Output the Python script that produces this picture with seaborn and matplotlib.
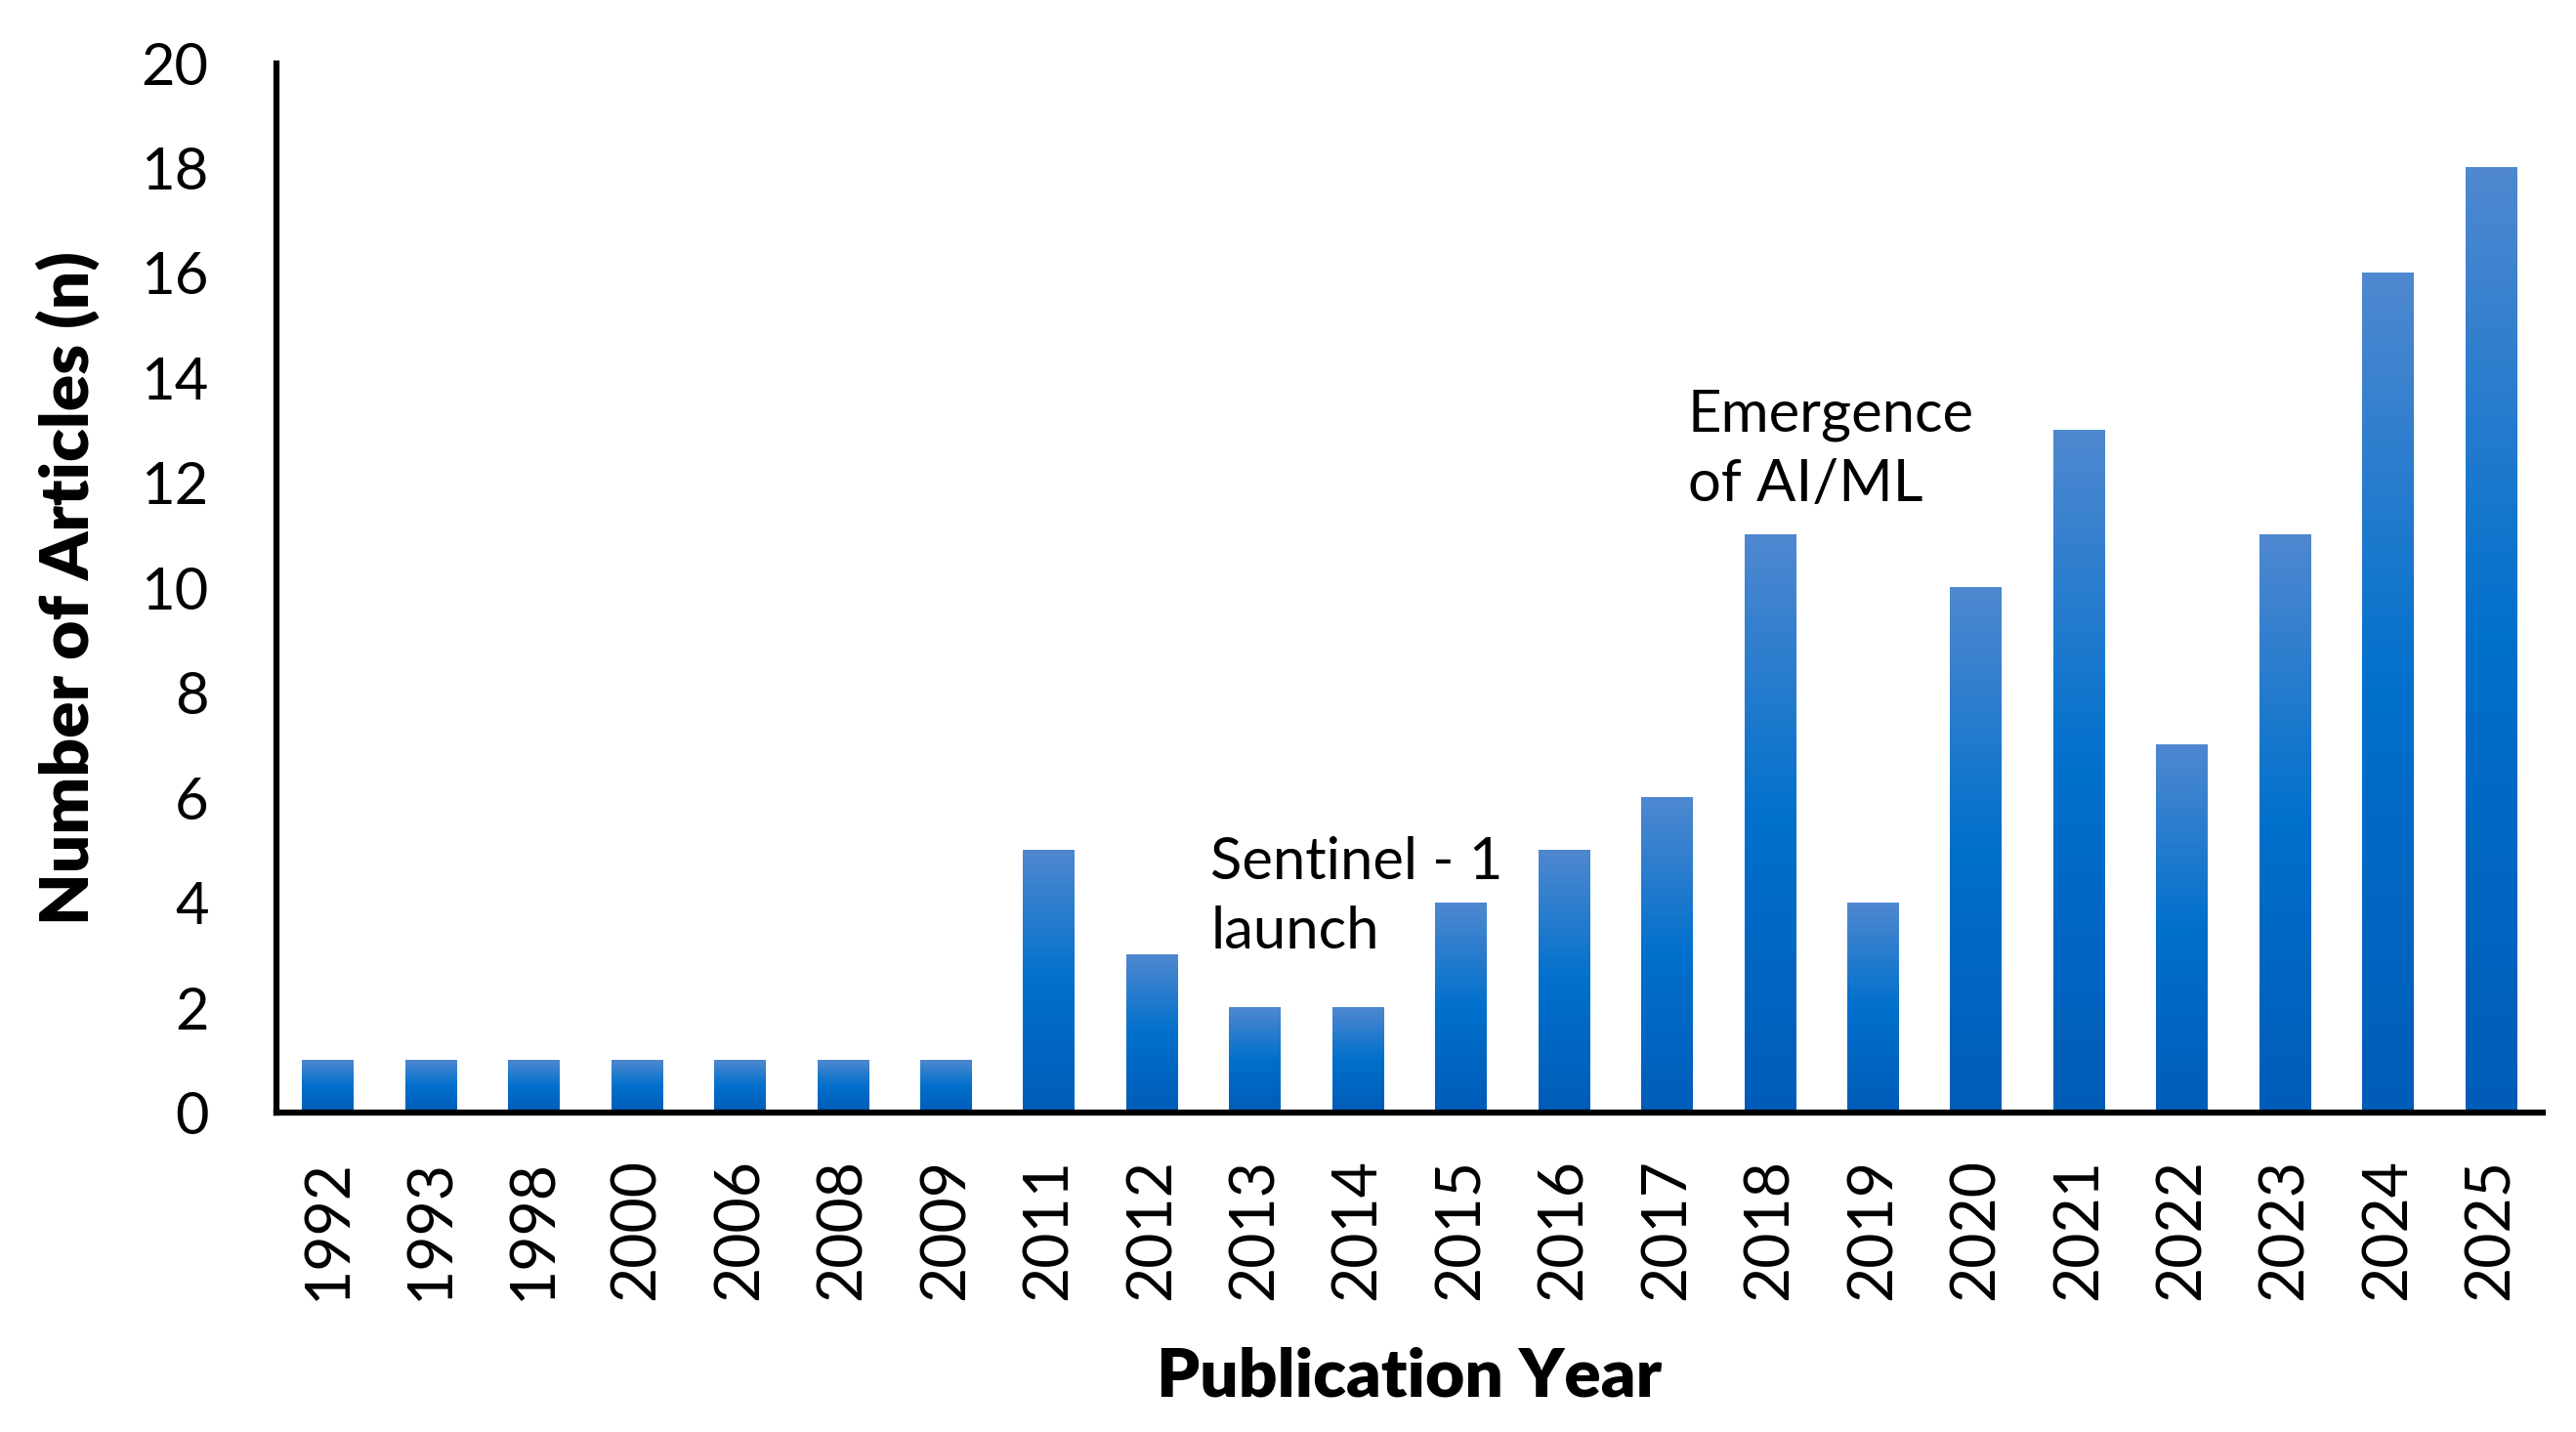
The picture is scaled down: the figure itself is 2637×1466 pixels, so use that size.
import numpy as np
import pandas as pd
import matplotlib
matplotlib.use('Agg')
import matplotlib.pyplot as plt
from matplotlib.colors import LinearSegmentedColormap
import seaborn as sns

# data
years = ['1992', '1993', '1998', '2000', '2006', '2008', '2009', '2011', '2012', '2013', '2014',
         '2015', '2016', '2017', '2018', '2019', '2020', '2021', '2022', '2023', '2024', '2025']
articles = [1, 1, 1, 1, 1, 1, 1, 5, 3, 2, 2, 4, 5, 6, 11, 4, 10, 13, 7, 11, 16, 18]
notes = ['Sentinel - 1\nlaunch', 'Emergence\nof AI/ML']

df = pd.DataFrame({'year': years, 'n': articles})

sns.set_style('white', {'text.color': 'black', 'axes.labelcolor': 'black',
                        'xtick.color': 'black', 'ytick.color': 'black'})
plt.rcParams['font.family'] = ['Lato', 'DejaVu Sans']

fig = plt.figure(figsize=(26.37, 14.66), dpi=100)
ax = fig.add_axes([0.1073, 0.223, 0.8797, 0.733])

sns.barplot(data=df, x='year', y='n', color='#0070CC', width=0.5, ax=ax)

# excel-like vertical gradient on every bar
cmap = LinearSegmentedColormap.from_list(
    'bar', [(0, '#005CB8'), (0.5, '#0070CC'), (1, '#4F88D0')])
grad = np.linspace(0, 1, 256).reshape(-1, 1)
for p in ax.patches:
    x0, w, h = p.get_x(), p.get_width(), p.get_height()
    p.set_visible(False)
    ax.imshow(grad, extent=[x0, x0 + w, 0, h], origin='lower', aspect='auto',
              cmap=cmap, zorder=2, interpolation='bicubic')

ax.set_xlim(-0.5, len(years) - 0.5)
ax.set_ylim(0, 20)
ax.set_yticks(range(0, 21, 2))

for s in ['top', 'right']:
    ax.spines[s].set_visible(False)
for s in ['left', 'bottom']:
    ax.spines[s].set_color('black')
    ax.spines[s].set_linewidth(4.5)
    ax.spines[s].set_zorder(3)

ax.tick_params(axis='y', length=0, pad=50, labelsize=43, labelcolor='black')
ax.tick_params(axis='x', length=0, pad=34, labelsize=45, rotation=90, labelcolor='black')

ax.set_xlabel('Publication Year', fontsize=50, fontweight='heavy', color='black')
ax.set_ylabel('Number of Articles (n)', fontsize=50, fontweight='heavy', color='black')
ax.xaxis.label.set_verticalalignment('center')
ax.yaxis.label.set_verticalalignment('center')
ax.xaxis.set_label_coords(0.5, -0.252)
ax.yaxis.set_label_coords(-0.092, 0.5)

ax.text(8.57, 4.1, notes[0], fontsize=43, ha='left', va='center', linespacing=1.38, color='black')
ax.text(13.2, 12.63, notes[1], fontsize=43, ha='left', va='center', linespacing=1.4, color='black')

plt.savefig('out.png', dpi=100)
